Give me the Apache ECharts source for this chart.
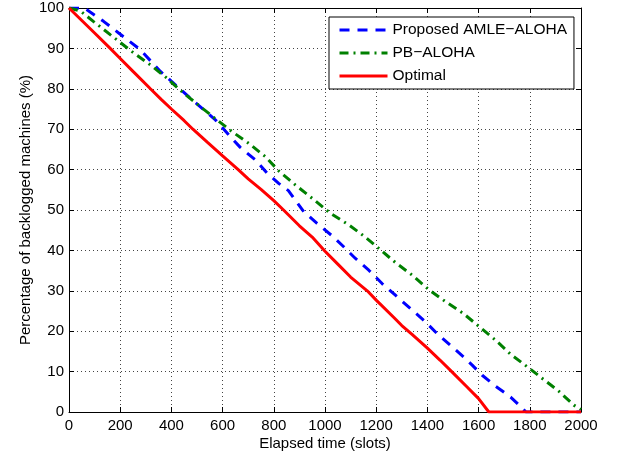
<!DOCTYPE html>
<html>
<head>
<meta charset="utf-8">
<script src="https://cdn.jsdelivr.net/npm/echarts@6/dist/echarts.min.js"></script>
<style>
html,body{margin:0;padding:0;background:#fff;}
#chart{width:618px;height:457px;}
</style>
</head>
<body>
<div id="chart"></div>
<script>
// ---- data ----
const seriesNames = ['Proposed AMLE\u2212ALOHA', 'PB\u2212ALOHA', 'Optimal'];
const xTicks = [0, 200, 400, 600, 800, 1000, 1200, 1400, 1600, 1800, 2000];
const yTicks = [0, 10, 20, 30, 40, 50, 60, 70, 80, 90, 100];

const amleX = [0, 60, 135, 194, 278, 357, 422, 474, 572, 624, 669, 728, 774, 819, 857, 917, 969, 1028, 1073, 1119, 1171, 1223, 1275, 1334, 1386, 1438, 1497, 1542, 1575, 1614, 1666, 1725, 1770, 1785, 2000];
const amleY = [100, 100, 96.7, 93.8, 89.7, 84.3, 80.6, 77.7, 72.3, 68.6, 65.5, 62.4, 59.1, 56.6, 54.8, 49.6, 46.7, 43.6, 40.9, 38.0, 35.1, 31.8, 28.9, 25.6, 22.7, 19.4, 16.1, 13.6, 11.6, 9.1, 6.4, 3.7, 1.0, 0, 0];

const pbX = [0, 44, 95, 161, 246, 318, 383, 448, 513, 578, 637, 702, 767, 819, 884, 950, 1021, 1093, 1151, 1210, 1275, 1340, 1405, 1471, 1540, 1601, 1666, 1725, 1790, 1855, 1914, 1972, 2000];
const pbY = [100, 99.3, 96.7, 93.4, 89.2, 85.9, 82.6, 78.9, 75.6, 72.3, 69.4, 66.5, 63.2, 59.7, 56.2, 52.9, 49.2, 46.3, 43.6, 40.5, 37.0, 33.9, 30.3, 27.3, 24.4, 21.2, 17.8, 14.3, 11.2, 8.0, 5.1, 1.7, 0.6];

const optX = [0, 50, 100, 161, 200, 250, 318, 360, 400, 450, 484, 540, 600, 661, 700, 750, 800, 838, 900, 950, 1000, 1050, 1100, 1165, 1200, 1269, 1300, 1340, 1400, 1450, 1495, 1555, 1600, 1640, 2000];
const optY = [100, 96.9, 93.8, 90, 87.5, 84.3, 80, 77.4, 75.0, 72.1, 70, 66.8, 63.4, 60, 57.7, 55.1, 52.3, 50, 46.1, 43.3, 39.8, 36.6, 33.4, 30.0, 27.7, 23.4, 21.4, 19.2, 15.8, 12.8, 10, 6.2, 3.3, 0, 0];

const xLabel = 'Elapsed time (slots)';
const yLabel = 'Percentage of backlogged machines (%)';

// ---- chart ----
const pair = (xs, ys) => xs.map((x, i) => [x, ys[i]]);
const font = 'Liberation Sans, Arial, Helvetica, sans-serif';
const gridLine = {show: true, lineStyle: {color: '#444', type: [1, 3], width: 1}};
const tick = {show: true, inside: true, length: 5, lineStyle: {color: '#000'}};
const axLine = {show: true, onZero: false, lineStyle: {color: '#000', width: 1}};
const plain = v => String(v);

const chart = echarts.init(document.getElementById('chart'), null, {renderer: 'canvas'});
chart.setOption({
  animation: false,
  backgroundColor: '#fff',
  grid: {left: 69, right: 37, top: 8, bottom: 45, containLabel: false},
  xAxis: [
    {type: 'value', min: xTicks[0], max: xTicks[xTicks.length - 1], interval: 200,
     position: 'bottom', axisLine: axLine, axisTick: tick, splitLine: gridLine,
     axisLabel: {color: '#000', fontSize: 15, fontFamily: font, margin: 6, formatter: plain},
     name: xLabel, nameLocation: 'middle', nameGap: 24, nameMoveOverlap: false,
     nameTextStyle: {color: '#000', fontSize: 15, fontFamily: font}},
    {type: 'value', min: xTicks[0], max: xTicks[xTicks.length - 1], interval: 200,
     position: 'top', axisLine: axLine, axisTick: tick, splitLine: {show: false},
     axisLabel: {show: false}}
  ],
  yAxis: [
    {type: 'value', min: yTicks[0], max: yTicks[yTicks.length - 1], interval: 10,
     position: 'left', axisLine: axLine, axisTick: tick, splitLine: gridLine,
     axisLabel: {color: '#000', fontSize: 15, fontFamily: font, margin: 5, formatter: plain},
     name: yLabel, nameLocation: 'middle', nameGap: 36, nameMoveOverlap: false,
     nameTextStyle: {color: '#000', fontSize: 15, fontFamily: font}},
    {type: 'value', min: yTicks[0], max: yTicks[yTicks.length - 1], interval: 10,
     position: 'right', axisLine: axLine, axisTick: tick, splitLine: {show: false},
     axisLabel: {show: false}}
  ],
  legend: {
    orient: 'vertical', left: 329, top: 17,
    padding: [5, 7, 5, 9], itemGap: 7, itemWidth: 48, itemHeight: 14, itemTextGap: 7,
    backgroundColor: '#fff', borderColor: '#000', borderWidth: 1,
    itemStyle: {opacity: 0},
    lineStyle: {width: 3},
    textStyle: {color: '#000', fontSize: 15.5, fontFamily: font},
    data: seriesNames
  },
  series: [
    {name: seriesNames[0], type: 'line', data: pair(amleX, amleY), symbol: 'none',
     lineStyle: {color: '#0000ff', width: 3, type: [10, 8]}, itemStyle: {color: '#0000ff'}, z: 3},
    {name: seriesNames[1], type: 'line', data: pair(pbX, pbY), symbol: 'none',
     lineStyle: {color: '#008000', width: 3, type: [9, 5, 2, 5]}, itemStyle: {color: '#008000'}, z: 4},
    {name: seriesNames[2], type: 'line', data: pair(optX, optY), symbol: 'none',
     lineStyle: {color: '#ff0000', width: 3}, itemStyle: {color: '#ff0000'}, z: 5}
  ]
});
</script>
</body>
</html>
